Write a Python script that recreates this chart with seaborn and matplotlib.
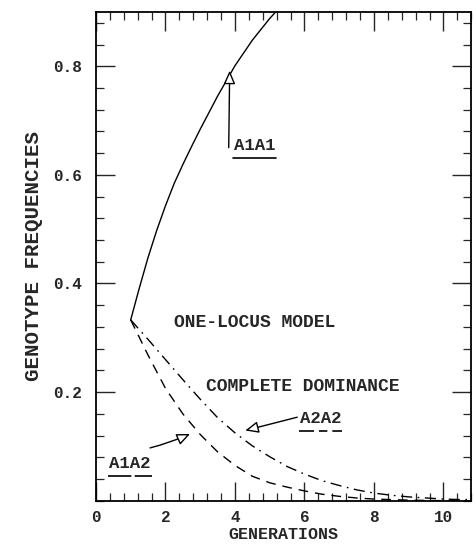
import numpy as np
import pandas as pd
import matplotlib
matplotlib.use("Agg")
import matplotlib.pyplot as plt
import seaborn as sns
from matplotlib.ticker import MultipleLocator

# ---- data ----
gen_a1a1 = [1.0, 1.25, 1.5, 1.75, 2.0, 2.25, 2.5, 2.75, 3.0, 3.5, 4.0, 4.5, 5.0, 5.5, 6.0]
a1a1 = [0.333, 0.392, 0.448, 0.498, 0.543, 0.584, 0.619, 0.652, 0.684, 0.745, 0.801,
        0.848, 0.888, 0.923, 0.950]

gen_a1a2 = [1.0, 1.5, 2.0, 2.5, 3.0, 3.5, 4.0, 4.5, 5.0, 5.5, 6.0, 6.5, 7.0, 7.5, 8.0, 9.0, 10.0, 10.8]
a1a2 = [0.333, 0.268, 0.207, 0.160, 0.122, 0.090, 0.065, 0.045, 0.033, 0.025, 0.018,
        0.012, 0.008, 0.005, 0.003, 0.001, 0.0, 0.0]

gen_a2a2 = [1.0, 1.5, 2.0, 2.5, 3.0, 3.5, 4.0, 4.5, 5.0, 5.5, 6.0, 6.5, 7.0, 7.5, 8.0,
            8.5, 9.0, 9.5, 10.0, 10.5, 10.8]
a2a2 = [0.333, 0.297, 0.260, 0.223, 0.187, 0.153, 0.125, 0.101, 0.081, 0.063, 0.049,
        0.037, 0.028, 0.020, 0.014, 0.010, 0.007, 0.005, 0.003, 0.002, 0.002]

genotypes = ["A1A1", "A1A2", "A2A2"]
x_ticks = [0, 2, 4, 6, 8, 10]
y_ticks = [0.2, 0.4, 0.6, 0.8]
x_label = "GENERATIONS"
y_label = "GENOTYPE FREQUENCIES"
title_1 = "ONE-LOCUS MODEL"
title_2 = "COMPLETE DOMINANCE"

df = pd.concat([
    pd.DataFrame({"gen": gen_a1a1, "freq": a1a1, "genotype": "A1A1"}),
    pd.DataFrame({"gen": gen_a1a2, "freq": a1a2, "genotype": "A1A2"}),
    pd.DataFrame({"gen": gen_a2a2, "freq": a2a2, "genotype": "A2A2"}),
], ignore_index=True)

sns.set_style("ticks")
FONT = ["Liberation Mono", "DejaVu Sans Mono"]
plt.rcParams["font.family"] = FONT

fig = plt.figure(figsize=(4.75, 5.46), dpi=100)
ax = fig.add_axes([0.202, 0.083, 0.790, 0.895])

sns.lineplot(data=df, x="gen", y="freq", style="genotype", style_order=genotypes,
             dashes={"A1A1": "", "A1A2": (7, 5), "A2A2": (8, 4, 1.2, 4)},
             color="black", linewidth=1.0, legend=False, ax=ax, sort=False)

ax.set_xlim(0, 10.8)
ax.set_ylim(0, 0.9)
ax.set_xticks(x_ticks)
ax.set_yticks(y_ticks)
ax.set_xticklabels([str(t) for t in x_ticks])
ax.set_yticklabels([f"{t:.1f}" for t in y_ticks])
ax.xaxis.set_minor_locator(MultipleLocator(0.4))
ax.yaxis.set_minor_locator(MultipleLocator(0.04))
ax.tick_params(which="major", direction="in", length=14, width=1.0,
               top=True, right=True, labelsize=11.5, pad=10)
ax.tick_params(axis="x", which="major", pad=7)
ax.tick_params(which="minor", direction="in", length=6, width=0.9,
               top=True, right=True)
for lab in ax.get_xticklabels() + ax.get_yticklabels():
    lab.set_fontweight("bold")
for s in ax.spines.values():
    s.set_linewidth(1.3)
    s.set_color("black")

ax.set_xlabel(x_label, fontsize=12, fontweight="bold", labelpad=1)
ax.set_ylabel(y_label, fontsize=15, fontweight="bold", labelpad=7)

# annotation text
ax.text(4.57, 0.329, title_1, ha="center", va="center", fontsize=13, fontweight="bold")
ax.text(5.95, 0.211, title_2, ha="center", va="center", fontsize=13, fontweight="bold")

label_pos = {"A1A1": (4.57, 0.654), "A1A2": (0.98, 0.069), "A2A2": (6.47, 0.152)}
arrow_from = {"A1A1": (3.82, 0.645), "A1A2": (1.48, 0.096), "A2A2": (5.87, 0.155)}
arrow_to = {"A1A1": (3.85, 0.797), "A1A2": (2.78, 0.125), "A2A2": (4.22, 0.128)}
under_ls = {"A1A1": "-", "A1A2": (0, (14, 2)), "A2A2": (0, (9, 3, 5, 3))}

for g in genotypes:
    lx, ly = label_pos[g]
    ax.text(lx, ly, g, ha="center", va="center", fontsize=12.5, fontweight="bold")
    ax.plot([lx - 0.62, lx + 0.62], [ly - 0.023, ly - 0.023], color="black",
            lw=1.2, linestyle=under_ls[g])
    ax.annotate("", xy=arrow_to[g], xytext=arrow_from[g],
                arrowprops=dict(arrowstyle="-|>,head_length=0.8,head_width=0.35",
                                fc="white", ec="black", lw=1.0,
                                connectionstyle="arc3,rad=0.05" if g == "A1A2" else "arc3,rad=0"))

fig.savefig("out.png", dpi=100)
